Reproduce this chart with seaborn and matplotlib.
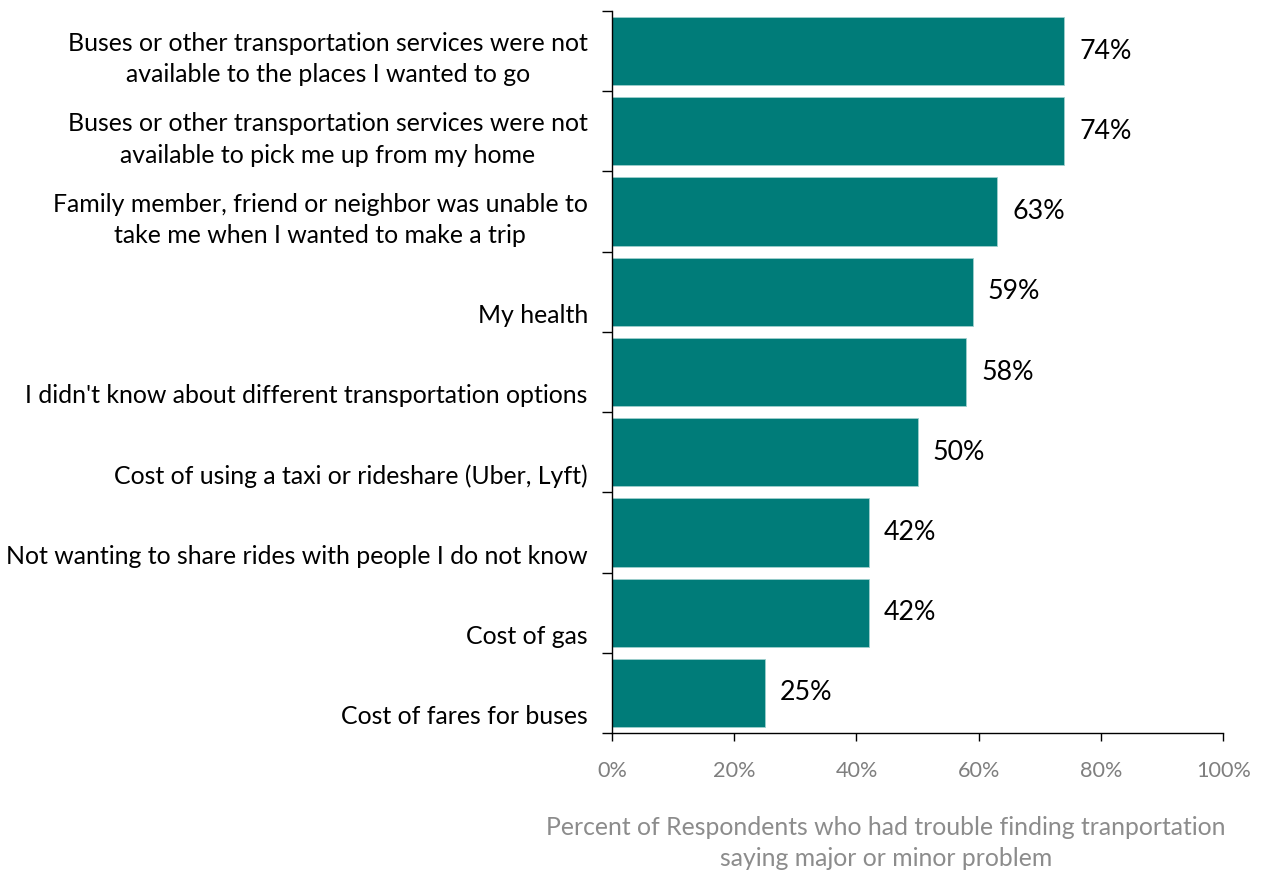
import numpy as np
import pandas as pd
import matplotlib
matplotlib.use("Agg")
import matplotlib.pyplot as plt
import seaborn as sns

# data
categories = [
    "Buses or other transportation services were not\navailable to the places I wanted to go",
    "Buses or other transportation services were not\navailable to pick me up from my home",
    "Family member, friend or neighbor was unable to\ntake me when I wanted to make a trip",
    "My health",
    "I didn't know about different transportation options",
    "Cost of using a taxi or rideshare (Uber, Lyft)",
    "Not wanting to share rides with people I do not know",
    "Cost of gas",
    "Cost of fares for buses",
]
percents = [74, 74, 63, 59, 58, 50, 42, 42, 25]
x_ticks = [0, 20, 40, 60, 80, 100]
x_label = "Percent of Respondents who had trouble finding tranportation\nsaying major or minor problem"

df = pd.DataFrame({"reason": categories, "pct": percents})

sns.set_style("white")
plt.rcParams['font.family'] = ['Lato', 'DejaVu Sans']

fig = plt.figure(figsize=(12.62, 8.74), dpi=100)
ax = fig.add_axes([0.485, 0.1613, 0.4842, 0.8261])

sns.barplot(data=df, x="pct", y="reason", orient="h", color="#007C79",
            saturation=1, width=0.85, edgecolor="#9fd0ce", linewidth=0.6, ax=ax)

# value labels
for i, v in enumerate(df["pct"]):
    ax.text(v + 2.45, i, f"{v}%", va="center", ha="left", fontsize=19.3, color="black")

ax.set_xlim(0, 100)
ax.set_xticks(x_ticks)
ax.set_xticklabels([f"{t}%" for t in x_ticks], fontsize=15.6, color="#7f7f7f")
ax.tick_params(axis="x", length=6, width=1, color="black", pad=14, bottom=True)

# category boundaries get the tick marks, labels sit low in each slot
n = len(categories)
ax.set_yticks(np.arange(n + 1) - 0.5)
ax.set_yticklabels([])
ax.tick_params(axis="y", which="major", length=7, width=1, color="black", left=True)
ax.set_yticks(np.arange(n) + 0.44, minor=True)
ax.set_yticklabels(df["reason"], minor=True, fontsize=17.9, va="bottom", ha="right",
                   multialignment="center", linespacing=1.43, color="black")
ax.tick_params(axis="y", which="minor", length=0, pad=17.5)
ax.set_ylim(n - 0.5, -0.5)

ax.set_ylabel("")
ax.set_xlabel(x_label, fontsize=17.8, color="#8c8c8c", linespacing=1.43)
ax.xaxis.set_label_coords(0.448, -0.115)

for s in ["top", "right"]:
    ax.spines[s].set_visible(False)
for s in ["left", "bottom"]:
    ax.spines[s].set_color("black")
    ax.spines[s].set_linewidth(1)

fig.savefig("out.png", dpi=100)
